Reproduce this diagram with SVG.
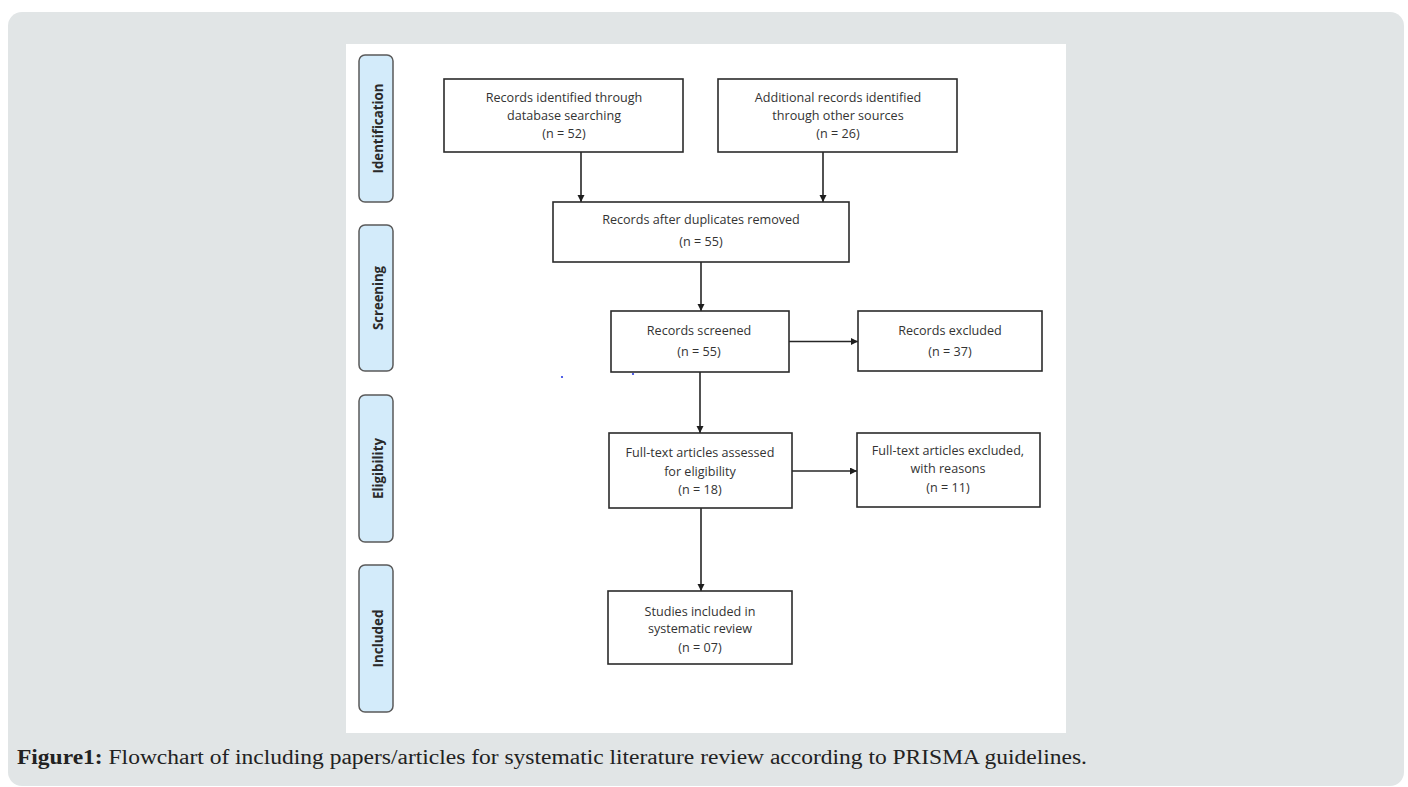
<svg xmlns="http://www.w3.org/2000/svg" width="1408" height="787" viewBox="0 0 1408 787">
<defs>
<style>
.bx{fill:#fff;stroke:#2b2b2b;stroke-width:1.6}
.side{fill:#d3ebfa;stroke:#5a5a5a;stroke-width:1.5}
.st{font-family:"Open Sans","Liberation Sans",sans-serif;font-weight:bold;font-size:14px;fill:#2a2a2a;text-anchor:middle}
.t{font-family:"Open Sans","Liberation Sans",sans-serif;font-size:12.6px;fill:#333;text-anchor:middle}
.c{stroke:#262626;stroke-width:1.6;fill:none}
.cap{font-family:"Liberation Serif","DejaVu Serif",serif;font-size:20px;fill:#222}
</style>
<marker id="ah" markerUnits="userSpaceOnUse" markerWidth="8" markerHeight="8" refX="7" refY="3.5" orient="auto">
<path d="M0,0 L7,3.5 L0,7 z" fill="#1e1e1e"/>
</marker>
</defs>
<rect x="0" y="0" width="1408" height="787" fill="#fff"/>
<rect x="8" y="12" width="1396" height="774" rx="14" fill="#e1e5e6"/>
<rect x="346" y="44" width="720" height="689" fill="#fff"/>

<g id="phase-identification">
<rect class="side" x="359" y="55" width="34" height="147" rx="6"/>
<text class="st" transform="translate(383,128.5) rotate(-90)" textLength="90" lengthAdjust="spacingAndGlyphs">Identification</text>
</g>
<g id="phase-screening">
<rect class="side" x="359" y="225" width="34" height="146" rx="6"/>
<text class="st" transform="translate(383,298) rotate(-90)" textLength="64" lengthAdjust="spacingAndGlyphs">Screening</text>
</g>
<g id="phase-eligibility">
<rect class="side" x="359" y="395" width="34" height="147" rx="6"/>
<text class="st" transform="translate(383,468.5) rotate(-90)" textLength="61" lengthAdjust="spacingAndGlyphs">Eligibility</text>
</g>
<g id="phase-included">
<rect class="side" x="359" y="565" width="34" height="147" rx="6"/>
<text class="st" transform="translate(383,638.5) rotate(-90)" textLength="58" lengthAdjust="spacingAndGlyphs">Included</text>
</g>

<g id="connectors">
<line class="c" x1="581" y1="152" x2="581" y2="202" marker-end="url(#ah)"/>
<line class="c" x1="823" y1="152" x2="823" y2="202" marker-end="url(#ah)"/>
<line class="c" x1="701" y1="262" x2="701" y2="311" marker-end="url(#ah)"/>
<line class="c" x1="700" y1="372" x2="700" y2="433" marker-end="url(#ah)"/>
<line class="c" x1="701" y1="508" x2="701" y2="591" marker-end="url(#ah)"/>
<line class="c" x1="789" y1="341.5" x2="858" y2="341.5" marker-end="url(#ah)"/>
<line class="c" x1="792" y1="471" x2="857" y2="471" marker-end="url(#ah)"/>
</g>

<g id="n-database">
<rect class="bx" x="444" y="79" width="239" height="73"/>
<text class="t" x="564" y="102">Records identified through</text>
<text class="t" x="564" y="120">database searching</text>
<text class="t" x="564" y="138">(n = 52)</text>
</g>
<g id="n-other">
<rect class="bx" x="718" y="79" width="239" height="73"/>
<text class="t" x="838" y="102">Additional records identified</text>
<text class="t" x="838" y="120">through other sources</text>
<text class="t" x="838" y="138">(n = 26)</text>
</g>
<g id="n-dup">
<rect class="bx" x="553" y="202" width="296" height="60"/>
<text class="t" x="701" y="224">Records after duplicates removed</text>
<text class="t" x="701" y="246">(n = 55)</text>
</g>
<g id="n-screened">
<rect class="bx" x="611" y="311" width="178" height="61"/>
<text class="t" x="699" y="335">Records screened</text>
<text class="t" x="699" y="356">(n = 55)</text>
</g>
<g id="n-excluded">
<rect class="bx" x="858" y="311" width="184" height="60"/>
<text class="t" x="950" y="335">Records excluded</text>
<text class="t" x="950" y="356">(n = 37)</text>
</g>
<g id="n-fulltext">
<rect class="bx" x="609" y="433" width="183" height="75"/>
<text class="t" x="700" y="457">Full-text articles assessed</text>
<text class="t" x="700" y="476">for eligibility</text>
<text class="t" x="700" y="494">(n = 18)</text>
</g>
<g id="n-ftexcluded">
<rect class="bx" x="857" y="433" width="183" height="74"/>
<text class="t" x="948" y="455">Full-text articles excluded,</text>
<text class="t" x="948" y="473">with reasons</text>
<text class="t" x="948" y="492">(n = 11)</text>
</g>
<g id="n-included">
<rect class="bx" x="608" y="591" width="184" height="73"/>
<text class="t" x="700" y="616">Studies included in</text>
<text class="t" x="700" y="633">systematic review</text>
<text class="t" x="700" y="652">(n = 07)</text>
</g>

<circle cx="562" cy="377" r="1.1" fill="#2a3be0"/>
<circle cx="633" cy="374" r="1.1" fill="#2a3be0"/>

<text class="cap" x="17" y="764" textLength="1070" lengthAdjust="spacingAndGlyphs"><tspan font-weight="bold">Figure1:</tspan> Flowchart of including papers/articles for systematic literature review according to PRISMA guidelines.</text>
</svg>
